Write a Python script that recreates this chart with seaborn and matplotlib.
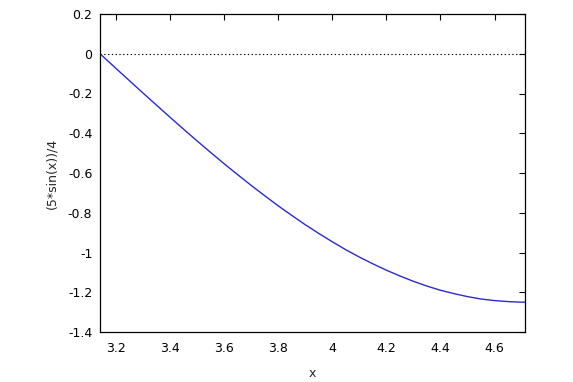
import matplotlib
matplotlib.use("Agg")
import matplotlib.pyplot as plt
import seaborn as sns
import pandas as pd

x_vals = [3.1416, 3.2, 3.25, 3.3, 3.35, 3.4, 3.45, 3.5, 3.55, 3.6, 3.65, 3.7, 3.75, 3.8,
          3.85, 3.9, 3.95, 4.0, 4.05, 4.1, 4.15, 4.2, 4.25, 4.3, 4.35, 4.4, 4.45, 4.5,
          4.55, 4.6, 4.65, 4.7, 4.7124]
y_vals = [0.0, -0.073, -0.135, -0.197, -0.258, -0.319, -0.379, -0.438, -0.496, -0.553,
          -0.608, -0.662, -0.714, -0.765, -0.813, -0.860, -0.904, -0.946, -0.986, -1.023,
          -1.057, -1.089, -1.118, -1.145, -1.169, -1.190, -1.207, -1.222, -1.234, -1.242,
          -1.247, -1.250, -1.250]
x_ticks = [3.2, 3.4, 3.6, 3.8, 4.0, 4.2, 4.4, 4.6]
x_tick_labels = ["3.2", "3.4", "3.6", "3.8", "4", "4.2", "4.4", "4.6"]
y_ticks = [-1.4, -1.2, -1.0, -0.8, -0.6, -0.4, -0.2, 0.0, 0.2]
y_tick_labels = ["-1.4", "-1.2", "-1", "-0.8", "-0.6", "-0.4", "-0.2", "0", "0.2"]

sns.set_style("white")
plt.rcParams["font.family"] = ["DejaVu Sans"]

df = pd.DataFrame({"x": x_vals, "y": y_vals})

fig = plt.figure(figsize=(5.73, 3.82), dpi=100)
ax = fig.add_axes([100/573, 1-332/382, 425/573, 318/382])

ax.axhline(0, color="black", linestyle=(0, (1.2, 2.2)), linewidth=0.8, zorder=1)
sns.lineplot(data=df, x="x", y="y", ax=ax, color="#2b2bd0", linewidth=1.0, zorder=2)

ax.set_xlim(3.14159, 4.71239)
ax.set_ylim(-1.4, 0.2)
ax.set_xticks(x_ticks)
ax.set_xticklabels(x_tick_labels)
ax.set_yticks(y_ticks)
ax.set_yticklabels(y_tick_labels)
ax.tick_params(direction="in", length=4.5, width=0.8, top=True, right=True,
               labelsize=9, colors="black", pad=5.5)
ax.tick_params(axis="x", pad=7.5)
for s in ax.spines.values():
    s.set_color("black")
    s.set_linewidth(0.9)
ax.set_xlabel("x", fontsize=9, labelpad=8)
ax.set_ylabel("(5*sin(x))/4", fontsize=9, labelpad=7)

fig.savefig("out.png", dpi=100)
